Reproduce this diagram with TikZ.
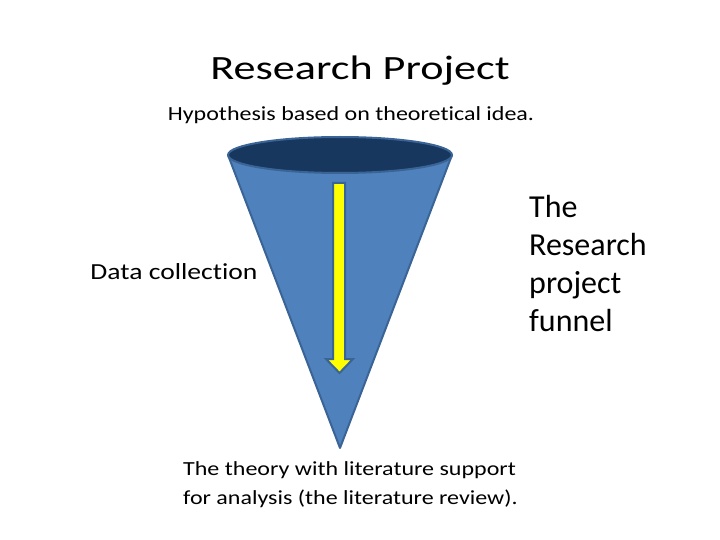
\documentclass[tikz,border=0pt]{standalone}
\usepackage{fontspec}
\setmainfont{Carlito}[Ligatures=CommonOff]
\newfontfamily\titlefont{Carlito}[FakeStretch=1.3, Ligatures=CommonOff]
\newfontfamily\bodyfont{Carlito}[FakeStretch=1.2, Ligatures=CommonOff]
\usepackage{tikz}
\usetikzlibrary{positioning, calc}
\definecolor{funnelblue}{HTML}{4F81BD}
\definecolor{funneledge}{HTML}{3A6496}
\definecolor{funneltop}{HTML}{17375E}
\definecolor{arrowyellow}{HTML}{FFFF00}

\begin{document}
\begin{tikzpicture}[x=1pt, y=-1pt,
    label/.style={font=\bodyfont\fontsize{20}{29}\selectfont, inner sep=0pt},
]
    \useasboundingbox (0,0) rectangle (720,540);

    % Titles
    \node[font=\titlefont\fontsize{34}{40}\selectfont, inner sep=0pt] (title) at (360, 71) {Research Project};
    \node[label] (hypo) at (351, 115) {Hypothesis based on theoretical idea.};

    % Funnel
    \coordinate (rimL) at (228, 155);
    \coordinate (rimR) at (452, 155);
    \coordinate (tip) at (340, 448);
    \fill[funnelblue] (rimL) -- (tip) -- (rimR) -- cycle;
    \draw[funneledge, line width=2pt, line join=round] (rimL) -- (tip) -- (rimR);
    \draw[funneledge, line width=2pt, fill=funneltop] (340, 155) ellipse [x radius=112, y radius=18];

    % Yellow arrow
    \draw[funneledge, line width=2pt, fill=arrowyellow, line join=miter]
        (333, 183) -- (345, 183) -- (345, 359) -- (353, 359) -- (339.5, 373)
        -- (326, 359) -- (333, 359) -- cycle;

    % Side labels
    \node[label, font=\bodyfont\fontsize{23}{28}\selectfont] (data) at (174, 272) {Data collection};
    \node[font=\fontsize{32}{38}\selectfont, inner sep=0pt, align=left, anchor=west] (side) at (529, 264)
        {The\\Research\\project\\funnel};
    \node[label, align=left, anchor=north west] (theory) at (183, 461)
        {The theory with literature support\\for analysis (the literature review).};
\end{tikzpicture}
\end{document}
